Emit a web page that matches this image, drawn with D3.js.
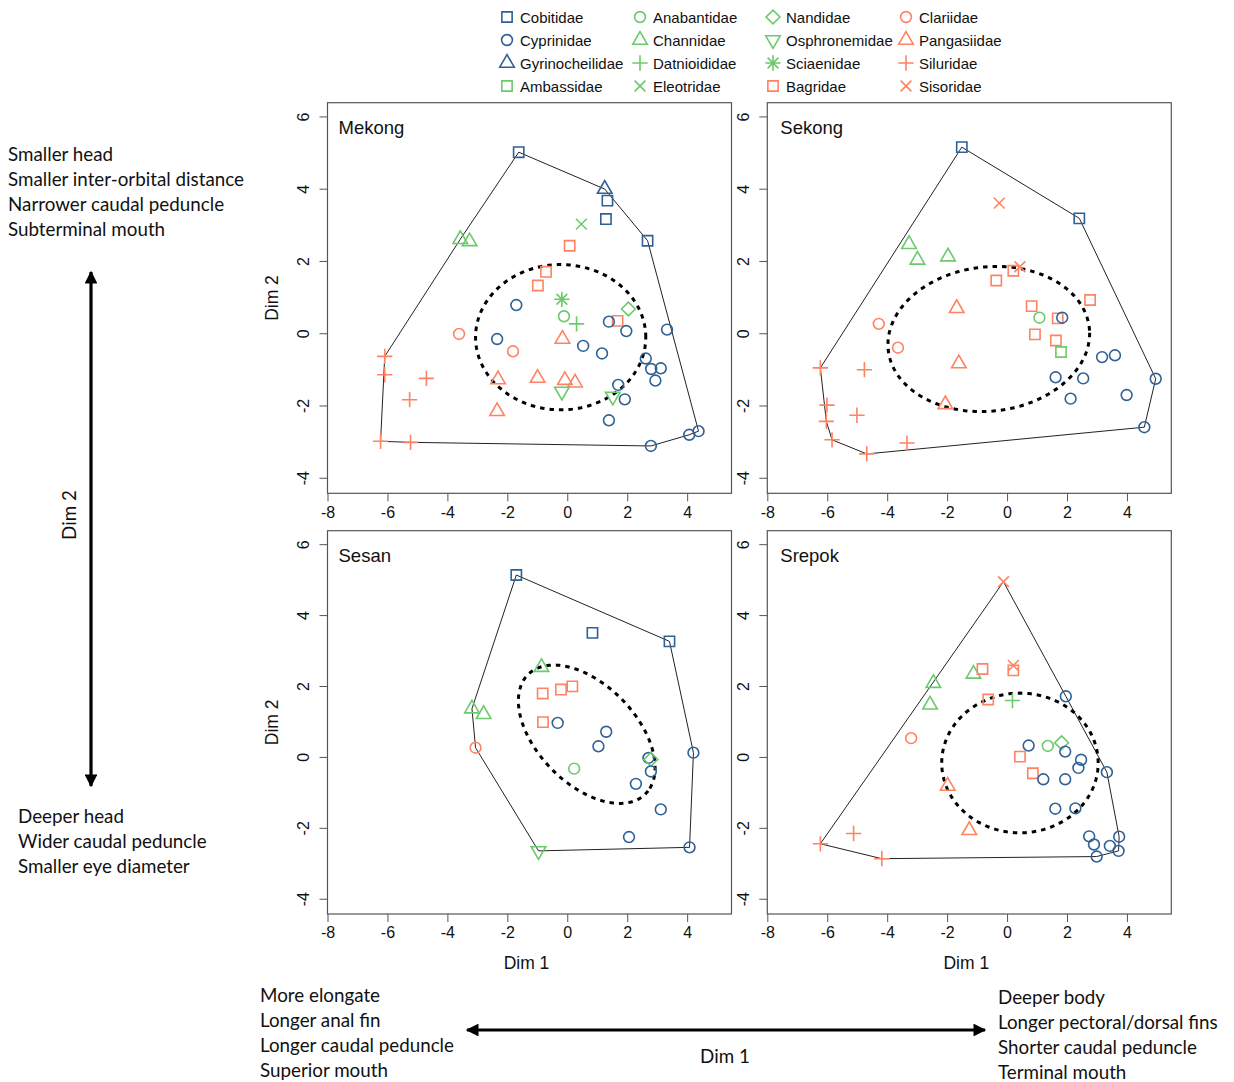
<!DOCTYPE html>
<html><head><meta charset="utf-8">
<script src="https://cdn.jsdelivr.net/npm/d3@7"></script>
<style>body{margin:0;background:#fff}svg{display:block}</style>
</head><body>
<svg id="c" width="1234" height="1082"></svg>
<script>
// ---------- DATA ----------
const legendColumns = [
  ["Cobitidae","Cyprinidae","Gyrinocheilidae","Ambassidae"],
  ["Anabantidae","Channidae","Datnioididae","Eleotridae"],
  ["Nandidae","Osphronemidae","Sciaenidae","Bagridae"],
  ["Clariidae","Pangasiidae","Siluridae","Sisoridae"]
];
const familyColor = {Cobitidae:"blue",Cyprinidae:"blue",Gyrinocheilidae:"blue",Ambassidae:"green",
  Anabantidae:"green",Channidae:"green",Datnioididae:"green",Eleotridae:"green",
  Nandidae:"green",Osphronemidae:"green",Sciaenidae:"green",Bagridae:"orange",
  Clariidae:"orange",Pangasiidae:"orange",Siluridae:"orange",Sisoridae:"orange"};
const familyShape = {Cobitidae:"square",Cyprinidae:"circle",Gyrinocheilidae:"triUp",Ambassidae:"square",
  Anabantidae:"circle",Channidae:"triUp",Datnioididae:"plus",Eleotridae:"cross",
  Nandidae:"diamond",Osphronemidae:"triDown",Sciaenidae:"star",Bagridae:"square",
  Clariidae:"circle",Pangasiidae:"triUp",Siluridae:"plus",Sisoridae:"cross"};

const xTicks = [-8,-6,-4,-2,0,2,4];
const yTicks = [-4,-2,0,2,4,6];
const xDomain = [-8, 5.48];
const yDomain = [-4.43, 6.38];

const mekong = [
["Cobitidae",-1.62,5.01],["Gyrinocheilidae",1.25,3.99],["Cobitidae",1.34,3.67],["Cobitidae",1.29,3.16],
["Cobitidae",2.68,2.56],["Eleotridae",0.47,3.02],["Channidae",-3.57,2.60],["Channidae",-3.26,2.54],
["Bagridae",0.08,2.42],["Bagridae",-0.71,1.70],["Bagridae",-0.98,1.32],["Sciaenidae",-0.18,0.94],
["Cyprinidae",-1.70,0.78],["Anabantidae",-0.11,0.47],["Datnioididae",0.31,0.26],["Nandidae",2.04,0.67],
["Bagridae",1.68,0.34],["Cyprinidae",1.39,0.32],["Cyprinidae",1.97,0.06],["Cyprinidae",3.33,0.10],
["Clariidae",-3.61,-0.02],["Cyprinidae",-2.34,-0.16],["Pangasiidae",-0.16,-0.16],["Clariidae",-1.81,-0.50],
["Cyprinidae",0.53,-0.35],["Cyprinidae",1.16,-0.56],["Cyprinidae",2.62,-0.70],["Cyprinidae",2.80,-0.99],
["Cyprinidae",3.12,-0.97],["Cyprinidae",2.94,-1.31],["Siluridae",-6.09,-0.64],["Siluridae",-6.09,-1.15],
["Siluridae",-4.70,-1.25],["Siluridae",-5.26,-1.84],["Siluridae",-6.23,-2.99],["Siluridae",-5.23,-3.02],
["Pangasiidae",-2.31,-1.28],["Pangasiidae",-0.99,-1.24],["Pangasiidae",-0.08,-1.30],["Pangasiidae",0.26,-1.37],
["Pangasiidae",-2.34,-2.16],["Osphronemidae",-0.18,-1.61],["Osphronemidae",1.52,-1.75],["Cyprinidae",1.70,-1.43],
["Cyprinidae",1.92,-1.83],["Cyprinidae",1.39,-2.41],["Cyprinidae",2.79,-3.12],["Cyprinidae",4.07,-2.81],
["Cyprinidae",4.38,-2.71]
];
const sekong = [
["Cobitidae",-1.51,5.15],["Cobitidae",2.41,3.18],["Sisoridae",-0.26,3.60],["Channidae",-3.27,2.46],
["Channidae",-2.99,2.03],["Channidae",-1.97,2.12],["Bagridae",0.21,1.73],["Sisoridae",0.43,1.84],
["Bagridae",-0.36,1.46],["Bagridae",2.77,0.92],["Pangasiidae",-1.68,0.69],["Bagridae",0.82,0.75],
["Anabantidae",1.08,0.43],["Bagridae",1.69,0.41],["Cyprinidae",1.84,0.43],["Bagridae",0.93,-0.03],
["Bagridae",1.63,-0.20],["Ambassidae",1.80,-0.52],["Clariidae",-4.28,0.26],["Clariidae",-3.64,-0.40],
["Pangasiidae",-1.61,-0.84],["Pangasiidae",-2.06,-1.97],["Cyprinidae",3.17,-0.66],["Cyprinidae",3.60,-0.61],
["Cyprinidae",4.96,-1.26],["Cyprinidae",1.62,-1.22],["Cyprinidae",2.54,-1.25],["Cyprinidae",2.12,-1.81],
["Cyprinidae",3.99,-1.71],["Cyprinidae",4.58,-2.60],["Siluridae",-6.23,-0.96],["Siluridae",-4.76,-1.01],
["Siluridae",-6.01,-1.99],["Siluridae",-5.01,-2.27],["Siluridae",-6.03,-2.44],["Siluridae",-5.84,-2.95],
["Siluridae",-4.68,-3.34],["Siluridae",-3.34,-3.04]
];
const sesan = [
["Cobitidae",-1.70,5.13],["Cobitidae",0.84,3.50],["Cobitidae",3.41,3.26],["Channidae",-0.86,2.53],
["Bagridae",-0.82,1.79],["Bagridae",-0.21,1.90],["Bagridae",0.17,1.99],["Channidae",-3.18,1.36],
["Channidae",-2.79,1.20],["Bagridae",-0.81,0.98],["Cyprinidae",-0.32,0.96],["Cyprinidae",1.30,0.71],
["Cyprinidae",1.04,0.30],["Clariidae",-3.06,0.26],["Cyprinidae",4.21,0.12],["Cyprinidae",2.71,-0.03],
["Nandidae",2.79,-0.07],["Cyprinidae",2.79,-0.41],["Anabantidae",0.23,-0.33],["Cyprinidae",2.29,-0.76],
["Cyprinidae",3.12,-1.48],["Cyprinidae",2.06,-2.26],["Cyprinidae",4.08,-2.55],["Osphronemidae",-0.96,-2.65]
];
const srepok = [
["Sisoridae",-0.12,4.94],["Channidae",-2.46,2.08],["Channidae",-2.57,1.47],["Channidae",-1.12,2.34],
["Bagridae",-0.82,2.48],["Bagridae",0.21,2.44],["Sisoridae",0.21,2.58],["Bagridae",-0.63,1.62],
["Datnioididae",0.18,1.59],["Cyprinidae",1.96,1.71],["Clariidae",-3.20,0.53],["Cyprinidae",0.72,0.32],
["Anabantidae",1.36,0.31],["Nandidae",1.82,0.40],["Cyprinidae",1.94,0.15],["Bagridae",0.43,0.01],
["Cyprinidae",2.47,-0.08],["Cyprinidae",2.38,-0.31],["Cyprinidae",3.33,-0.43],["Bagridae",0.86,-0.46],
["Cyprinidae",1.21,-0.63],["Cyprinidae",1.94,-0.63],["Pangasiidae",-1.98,-0.82],["Pangasiidae",-1.26,-2.07],
["Cyprinidae",1.61,-1.46],["Cyprinidae",2.28,-1.45],["Cyprinidae",2.74,-2.24],["Cyprinidae",3.74,-2.25],
["Cyprinidae",2.90,-2.47],["Cyprinidae",3.43,-2.51],["Cyprinidae",3.72,-2.65],["Cyprinidae",2.99,-2.81],
["Siluridae",-6.23,-2.45],["Siluridae",-5.12,-2.16],["Siluridae",-4.18,-2.87]
];
// ellipses: [cx, cy, semi-axis a, semi-axis b, angle in degrees] (data units)
const ellipseMekong = [-0.22,-0.11,2.84,2.01,0];
const ellipseSekong = [-0.61,-0.16,3.37,2.0,4];
const ellipseSesan  = [0.65,0.64,2.6,1.5,-36];
const ellipseSrepok = [0.43,-0.17,2.61,1.97,0];

const riverNames = ["Mekong","Sekong","Sesan","Srepok"];
const leftTexts = ["Smaller head","Smaller inter-orbital distance","Narrower caudal peduncle","Subterminal mouth"];
const lowerLeftTexts = ["Deeper head","Wider caudal peduncle","Smaller eye diameter"];
const bottomLeftTexts = ["More elongate","Longer anal fin","Longer caudal peduncle","Superior mouth"];
const bottomRightTexts = ["Deeper body","Longer pectoral/dorsal fins","Shorter caudal peduncle","Terminal mouth"];

// ---------- STYLE ----------
const COLORS = {blue:"#2f6196", green:"#6cc96c", orange:"#ff8262"};
const PF = "'Liberation Sans', Arial, sans-serif";
const AF = "Lato, 'Open Sans', sans-serif";
const R = 5.4;

function symbolPath(shape){
  const s = R;
  switch(shape){
    case "circle": return `M${s},0A${s},${s} 0 1,1 ${-s},0A${s},${s} 0 1,1 ${s},0Z`;
    case "square": { const h = s*0.95; return `M${-h},${-h}H${h}V${h}H${-h}Z`; }
    case "triUp": { const r=1.5551*s, xc=1.3468*s, yc=0.7776*s; return `M0,${-r}L${xc},${yc}L${-xc},${yc}Z`; }
    case "triDown": { const r=1.5551*s, xc=1.3468*s, yc=0.7776*s; return `M0,${r}L${xc},${-yc}L${-xc},${-yc}Z`; }
    case "diamond": { const d=1.28*s; return `M0,${-d}L${d},0L0,${d}L${-d},0Z`; }
    case "plus": { const d=1.4142*s; return `M${-d},0H${d}M0,${-d}V${d}`; }
    case "cross": { const d=s; return `M${-d},${-d}L${d},${d}M${-d},${d}L${d},${-d}`; }
    case "star": { const d=s, e=1.4142*s; return `M${-d},${-d}L${d},${d}M${-d},${d}L${d},${-d}M${-e},0H${e}M0,${-e}V${e}`; }
  }
}

const svg = d3.select("#c");

// ---------- LEGEND ----------
const legX = [507, 640, 773, 906];
const legY = [17, 40, 63, 86];
legendColumns.forEach((col, ci) => {
  col.forEach((fam, ri) => {
    const g = svg.append("g").attr("transform", `translate(${legX[ci]},${legY[ri]})`);
    g.append("path").attr("d", symbolPath(familyShape[fam]))
      .attr("fill","none").attr("stroke", COLORS[familyColor[fam]]).attr("stroke-width",1.6);
    g.append("text").attr("x", 13).attr("y", 5.5).text(fam)
      .attr("font-family", PF).attr("font-size", 15).attr("fill","#111");
  });
});

// ---------- PANELS ----------
const panels = [
  {name:riverNames[0], pts:mekong, ell:ellipseMekong, x0:327.5, x1:731.5, y0:102.7, y1:493.3, left:true,  bottom:false},
  {name:riverNames[1], pts:sekong, ell:ellipseSekong, x0:767.3, x1:1171.3, y0:102.7, y1:493.3, left:false, bottom:false},
  {name:riverNames[2], pts:sesan,  ell:ellipseSesan,  x0:327.5, x1:731.5, y0:530.7, y1:914,   left:true,  bottom:true},
  {name:riverNames[3], pts:srepok, ell:ellipseSrepok, x0:767.3, x1:1171.3, y0:530.7, y1:914,   left:false, bottom:true}
];
const AXC = "#555";

panels.forEach(p => {
  const x = d3.scaleLinear().domain(xDomain).range([p.x0, p.x1]);
  const y = d3.scaleLinear().domain(yDomain).range([p.y1, p.y0]);
  const g = svg.append("g");

  // axes
  const xa = g.append("g").attr("transform", `translate(0,${p.y1})`)
    .call(d3.axisBottom(x).tickValues(xTicks).tickSize(8).tickPadding(5).tickFormat(d3.format("d")));
  const ya = g.append("g").attr("transform", `translate(${p.x0},0)`)
    .call(d3.axisLeft(y).tickValues(yTicks).tickSize(8).tickPadding(6).tickFormat(d3.format("d")));
  [xa, ya].forEach(a => {
    a.select(".domain").remove();
    a.selectAll("line").attr("stroke", AXC);
    a.selectAll("text").attr("font-family", PF).attr("font-size", 16).attr("fill","#111");
  });
  xa.selectAll("text").text(d => d < 0 ? "-" + Math.abs(d) : d);
  ya.selectAll("text").text(d => d < 0 ? "-" + Math.abs(d) : d)
    .attr("text-anchor","middle").attr("dy", null).attr("x", null)
    .attr("dominant-baseline","central")
    .attr("transform", d => `translate(-24,0) rotate(-90)`);
  // box
  g.append("rect").attr("x", p.x0).attr("y", p.y0).attr("width", p.x1-p.x0).attr("height", p.y1-p.y0)
    .attr("fill","none").attr("stroke", AXC).attr("stroke-width", 1.2);

  // title
  g.append("text").attr("x", p.x0 + (p.left ? 11 : 13)).attr("y", p.y0 + 31).text(p.name)
    .attr("font-family", PF).attr("font-size", 18.5).attr("fill","#111");

  if (p.left) {
    g.append("text").text("Dim 2").attr("font-family", PF).attr("font-size", 17.5).attr("fill","#111")
      .attr("text-anchor","middle").attr("dominant-baseline","central")
      .attr("transform", `translate(272,${(p.y0+p.y1)/2}) rotate(-90)`);
  }
  if (p.bottom) {
    g.append("text").text("Dim 1").attr("font-family", PF).attr("font-size", 17.5).attr("fill","#111")
      .attr("text-anchor","middle").attr("x", (p.x0+p.x1)/2 - 3).attr("y", 969);
  }

  // convex hull
  const pix = p.pts.map(d => [x(d[1]), y(d[2])]);
  const hull = d3.polygonHull(pix);
  g.append("path").attr("d", "M" + hull.map(q => q.join(",")).join("L") + "Z")
    .attr("fill","none").attr("stroke","#222").attr("stroke-width",1);

  // ellipse
  const [cx, cy, a, b, ang] = p.ell;
  const th = ang * Math.PI / 180;
  const ep = d3.range(0, 361, 2).map(t => {
    const tt = t * Math.PI / 180;
    const ex = a*Math.cos(tt), ey = b*Math.sin(tt);
    return [x(cx + ex*Math.cos(th) - ey*Math.sin(th)), y(cy + ex*Math.sin(th) + ey*Math.cos(th))];
  });
  g.append("path").attr("d", d3.line().curve(d3.curveLinearClosed)(ep))
    .attr("fill","none").attr("stroke","#000").attr("stroke-width",3).attr("stroke-dasharray","4.5,5");

  // points
  g.selectAll("path.pt").data(p.pts).join("path").attr("class","pt")
    .attr("transform", d => `translate(${x(d[1])},${y(d[2])})`)
    .attr("d", d => symbolPath(familyShape[d[0]]))
    .attr("fill","none").attr("stroke", d => COLORS[familyColor[d[0]]]).attr("stroke-width",1.6);
});

// ---------- ANNOTATIONS ----------
const ann = svg.append("g").attr("font-family", AF).attr("font-size", 18.8).attr("fill","#111");
leftTexts.forEach((t,i) => ann.append("text").attr("x", 8).attr("y", 161 + i*25).text(t));
lowerLeftTexts.forEach((t,i) => ann.append("text").attr("x", 18).attr("y", 823 + i*25).text(t));
bottomLeftTexts.forEach((t,i) => ann.append("text").attr("x", 260).attr("y", 1002 + i*25).text(t));
bottomRightTexts.forEach((t,i) => ann.append("text").attr("x", 998).attr("y", 1004 + i*25).text(t));
ann.append("text").text("Dim 2").attr("text-anchor","middle").attr("dominant-baseline","central")
  .attr("transform","translate(68,515) rotate(-90)");
ann.append("text").text("Dim 1").attr("text-anchor","middle").attr("x", 725).attr("y", 1063);

const defs = svg.append("defs");
defs.append("marker").attr("id","ah").attr("viewBox","0 0 10 10").attr("refX",9).attr("refY",5)
  .attr("markerWidth",5).attr("markerHeight",4).attr("orient","auto-start-reverse")
  .attr("markerUnits","strokeWidth")
  .append("path").attr("d","M0,0L10,5L0,10Z").attr("fill","#000");
svg.append("line").attr("x1",91).attr("y1",272).attr("x2",91).attr("y2",786)
  .attr("stroke","#000").attr("stroke-width",3.2)
  .attr("marker-start","url(#ah)").attr("marker-end","url(#ah)");
svg.append("line").attr("x1",467).attr("y1",1030).attr("x2",985).attr("y2",1030)
  .attr("stroke","#000").attr("stroke-width",3.2)
  .attr("marker-start","url(#ah)").attr("marker-end","url(#ah)");
</script>
</body></html>
